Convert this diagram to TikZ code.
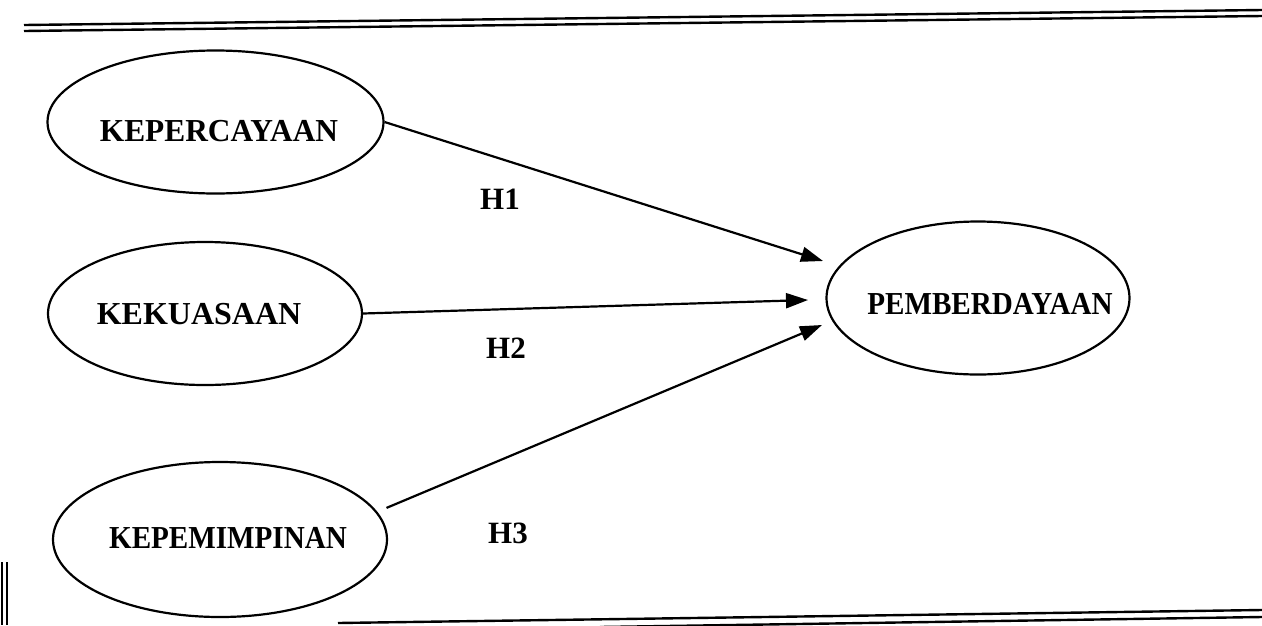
\documentclass[tikz,border=0pt]{standalone}
\usepackage{fontspec}
\setmainfont{Liberation Serif}
\usetikzlibrary{shapes.geometric,arrows.meta}
\begin{document}
\begin{tikzpicture}[x=1pt,y=-1pt,
  var/.style={draw,ellipse,line width=2.2pt,inner sep=0pt},
  vtxt/.style={inner sep=0pt,font=\fontsize{32}{36}\selectfont\bfseries},
  hyp/.style={inner sep=0pt,font=\fontsize{31}{34}\selectfont\bfseries},
  arr/.style={line width=2.2pt,-{Triangle[length=22pt,width=15pt]}},
  rulebar/.style={line width=2.4pt}]
\useasboundingbox (0,0) rectangle (1262,625);
% frame rules
\draw[rulebar] (24,25) -- (1262,10);
\draw[rulebar] (24,31) -- (1262,16);
\draw[rulebar] (338,623) -- (1262,610);
\draw[rulebar] (600,627) -- (1262,617);
\draw[line width=1.8pt] (2,562) -- (2,625);
\draw[line width=1.8pt] (7,562) -- (7,625);
% variables
\node[var,minimum width=336pt,minimum height=143pt] (A) at (215.5,122) {};
\node[vtxt] (At) at (219,131) {\scalebox{0.98}[1]{KEPERCAYAAN}};
\node[var,minimum width=314pt,minimum height=143pt] (B) at (205,313.5) {};
\node[vtxt] (Bt) at (199,314) {\scalebox{1.0}[1]{KEKUASAAN}};
\node[var,minimum width=334pt,minimum height=155pt] (C) at (220,539.5) {};
\node[vtxt] (Ct) at (228,538) {\scalebox{0.91}[1]{KEPEMIMPINAN}};
\node[var,minimum width=303pt,minimum height=153pt] (D) at (978,298) {};
\node[vtxt] (Dt) at (990,304) {\scalebox{0.91}[1]{PEMBERDAYAAN}};
% arrow tips
\coordinate (t1) at (823,261);
\coordinate (t2) at (808,300);
\coordinate (t3) at (822,325);
\draw[arr] (A.east) -- (t1);
\draw[arr] (B.east) -- (t2);
\draw[arr,shorten <=10pt] (C.10) -- (t3);
% hypotheses
\node[hyp] (h1) at (500,199) {H1};
\node[hyp] (h2) at (506,348) {H2};
\node[hyp] (h3) at (508,533) {H3};
\end{tikzpicture}
\end{document}
